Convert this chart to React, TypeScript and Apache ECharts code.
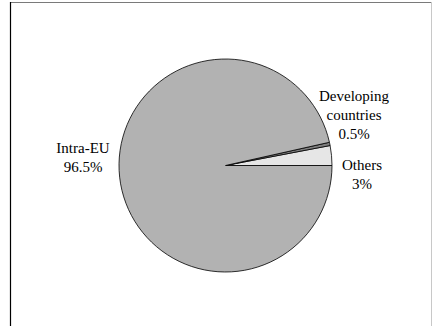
import React, { useEffect, useRef } from "react";
import * as echarts from "echarts";

// Trade shares by partner group (percent)
const categories = ["Others", "Developing countries", "Intra-EU"];
const labelNames = ["Others", "Developing\ncountries", "Intra-EU"];
const shares = [3, 0.5, 96.5];
const colors = ["#e6e6e6", "#7f7f7f", "#b2b2b2"];

// Label anchor points (centre of each text block)
const labelAnchors: [number, number][] = [
  [362, 174],
  [354, 115],
  [83, 157],
];

export default function App() {
  const ref = useRef<HTMLDivElement>(null);

  useEffect(() => {
    if (!ref.current) return;
    const chart = echarts.init(ref.current, null, { renderer: "svg" });
    chart.setOption({
      animation: false,
      backgroundColor: "#ffffff",
      graphic: [
        {
          type: "line",
          shape: { x1: 10, y1: 2.5, x2: 432, y2: 2.5 },
          style: { stroke: "#7a7a7a", lineWidth: 1.2 },
        },
        {
          type: "line",
          shape: { x1: 10.5, y1: 2, x2: 10.5, y2: 326 },
          style: { stroke: "#000000", lineWidth: 1.2 },
        },
        {
          type: "line",
          shape: { x1: 431.5, y1: 2, x2: 431.5, y2: 326 },
          style: { stroke: "#c8c8c8", lineWidth: 1 },
        },
      ],
      series: [
        {
          type: "pie",
          center: [225.5, 165.5],
          radius: 106.5,
          startAngle: 0,
          clockwise: false,
          avoidLabelOverlap: false,
          itemStyle: { borderColor: "#000000", borderWidth: 0.8 },
          label: {
            show: true,
            position: "outside",
            fontFamily: "'Liberation Serif', 'Times New Roman', serif",
            fontSize: 15,
            lineHeight: 19,
            color: "#000000",
            align: "center",
            formatter: (p: any) => `${labelNames[p.dataIndex]}\n${shares[p.dataIndex]}%`,
          },
          labelLine: { show: false },
          labelLayout: (p: any) => ({
            x: labelAnchors[p.dataIndex][0],
            y: labelAnchors[p.dataIndex][1],
            align: "center",
            verticalAlign: "middle",
          }),
          emphasis: { disabled: true },
          data: categories.map((name, i) => ({
            name,
            value: shares[i],
            itemStyle: { color: colors[i] },
          })),
        },
      ],
    });
    return () => chart.dispose();
  }, []);

  return (
    <div
      ref={ref}
      style={{ position: "absolute", left: 0, top: 0, width: 433, height: 326 }}
    />
  );
}
